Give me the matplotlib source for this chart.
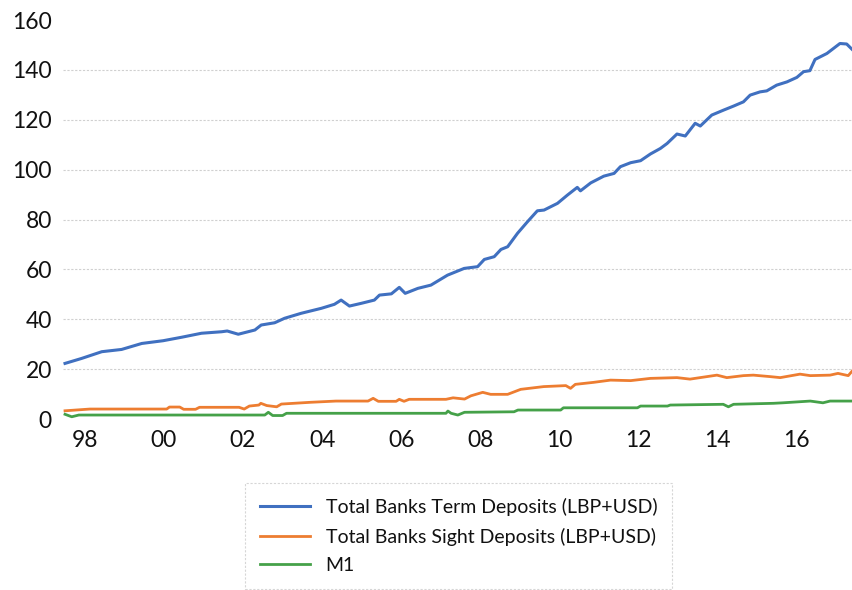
import matplotlib
matplotlib.use("Agg")
import matplotlib.pyplot as plt

# ---- data (decimal years, values) ----
term_x = [1997.50, 1997.92, 1998.43, 1998.93, 1999.44, 1999.98, 2000.45, 2000.95, 2001.46, 2001.60,
          2001.88, 2002.30, 2002.46, 2002.80, 2003.05, 2003.47, 2003.98, 2004.31, 2004.48, 2004.69,
          2004.99, 2005.32, 2005.45, 2005.75, 2005.95, 2006.10, 2006.42, 2006.75, 2007.17, 2007.59,
          2007.93, 2008.10, 2008.35, 2008.52, 2008.69, 2008.94, 2009.19, 2009.44, 2009.61, 2009.95,
          2010.20, 2010.45, 2010.53, 2010.79, 2011.12, 2011.38, 2011.54, 2011.80, 2012.05, 2012.30,
          2012.55, 2012.72, 2012.97, 2013.18, 2013.43, 2013.56, 2013.85, 2014.15, 2014.40, 2014.65,
          2014.82, 2015.07, 2015.24, 2015.49, 2015.75, 2016.00, 2016.17, 2016.33, 2016.46, 2016.76,
          2017.09, 2017.26, 2017.40]
term_v = [22.3, 24.3, 27.0, 27.9, 30.3, 31.4, 32.8, 34.4, 35.0, 35.3,
          34.0, 35.7, 37.7, 38.6, 40.4, 42.4, 44.4, 46.0, 47.7, 45.3,
          46.4, 47.7, 49.7, 50.2, 52.8, 50.4, 52.4, 53.7, 57.7, 60.4,
          61.1, 64.0, 65.1, 68.0, 69.1, 74.5, 79.1, 83.5, 83.8, 86.5,
          89.8, 92.9, 91.5, 94.7, 97.4, 98.5, 101.2, 102.8, 103.6, 106.3,
          108.5, 110.5, 114.3, 113.5, 118.6, 117.5, 121.9, 123.9, 125.5, 127.2,
          129.9, 131.2, 131.6, 133.9, 135.2, 137.0, 139.3, 139.7, 144.2, 146.6,
          150.6, 150.4, 148.2]

sight_x = [1997.50, 1998.13, 2000.07, 2000.14, 2000.40, 2000.50, 2000.80, 2000.90, 2001.90, 2002.03,
           2002.16, 2002.40, 2002.45, 2002.60, 2002.85, 2002.97, 2003.70, 2004.35, 2005.16, 2005.29,
           2005.42, 2005.87, 2005.95, 2006.07, 2006.20, 2007.13, 2007.31, 2007.60, 2007.76, 2008.06,
           2008.26, 2008.69, 2009.02, 2009.60, 2010.16, 2010.28, 2010.40, 2010.86, 2011.29, 2011.80,
           2012.30, 2012.97, 2013.30, 2013.98, 2014.23, 2014.65, 2014.90, 2015.33, 2015.58, 2016.08,
           2016.34, 2016.84, 2017.04, 2017.30, 2017.42]
sight_v = [3.3, 4.0, 4.0, 4.8, 4.8, 3.9, 3.9, 4.7, 4.7, 4.0,
           5.2, 5.6, 6.3, 5.4, 4.9, 6.0, 6.7, 7.2, 7.2, 8.3,
           7.1, 7.1, 7.9, 7.1, 7.9, 7.9, 8.5, 8.0, 9.3, 10.7,
           9.9, 9.9, 11.9, 13.0, 13.4, 12.3, 13.9, 14.7, 15.6, 15.4,
           16.3, 16.6, 16.0, 17.6, 16.6, 17.4, 17.6, 17.0, 16.6, 18.0,
           17.4, 17.6, 18.3, 17.4, 19.6]

m1_x = [1997.50, 1997.67, 1997.85, 2002.55, 2002.64, 2002.75, 2003.00, 2003.10, 2007.13, 2007.18,
        2007.26, 2007.43, 2007.60, 2008.85, 2008.95, 2010.03, 2010.10, 2011.97, 2012.05, 2012.73,
        2012.80, 2014.14, 2014.27, 2014.40, 2015.41, 2015.65, 2016.34, 2016.66, 2016.84, 2017.42]
m1_v = [1.9, 0.9, 1.6, 1.6, 2.7, 1.4, 1.4, 2.3, 2.3, 3.2,
        2.3, 1.6, 2.7, 2.9, 3.6, 3.6, 4.5, 4.5, 5.2, 5.2,
        5.6, 5.9, 4.9, 5.9, 6.3, 6.5, 7.2, 6.5, 7.2, 7.2]

series_labels = ["Total Banks Term Deposits (LBP+USD)",
                 "Total Banks Sight Deposits (LBP+USD)",
                 "M1"]
x_tick_years = [1998, 2000, 2002, 2004, 2006, 2008, 2010, 2012, 2014, 2016]
x_tick_labels = ["98", "00", "02", "04", "06", "08", "10", "12", "14", "16"]
y_ticks = [0, 20, 40, 60, 80, 100, 120, 140, 160]

colors = ["#4070C0", "#ED7D31", "#45A149"]

plt.rcParams['font.family'] = ['Lato', 'DejaVu Sans']

fig = plt.figure(figsize=(8.53, 5.90), dpi=100)
ax = fig.add_axes([0.0739, 0.2898, 0.9261, 0.6762])

l1, = ax.plot(term_x, term_v, color=colors[0], lw=2.2, label=series_labels[0])
l2, = ax.plot(sight_x, sight_v, color=colors[1], lw=2.0, label=series_labels[1])
l3, = ax.plot(m1_x, m1_v, color=colors[2], lw=2.0, label=series_labels[2])

ax.set_xlim(1997.45, 2017.42)
ax.set_ylim(0, 160)
ax.set_yticks(y_ticks)
ax.set_xticks(x_tick_years)
ax.set_xticklabels(x_tick_labels)
ax.tick_params(axis='both', length=0, labelsize=16.5, colors='#111111')
ax.tick_params(axis='y', pad=8)
ax.tick_params(axis='x', pad=8)
for s in ax.spines.values():
    s.set_visible(False)

ax.set_axisbelow(True)
ax.yaxis.grid(True, color='#d0d0d0', linestyle=(0, (2, 1.5)), linewidth=0.8)
gls = ax.get_ygridlines()
gls[0].set_visible(False)
gls[-1].set_visible(False)

leg = fig.legend(handles=[l1, l2, l3], loc='center', bbox_to_anchor=(0.5375, 0.0915),
                 fontsize=14, frameon=True, fancybox=False, handlelength=2.6,
                 labelspacing=0.6, borderpad=0.75, handletextpad=0.8, borderaxespad=0)
fr = leg.get_frame()
fr.set_edgecolor('#cccccc')
fr.set_linestyle((0, (2, 1.5)))
fr.set_linewidth(0.8)
for t in leg.get_texts():
    t.set_color('#111111')

fig.savefig("out.png", dpi=100)
